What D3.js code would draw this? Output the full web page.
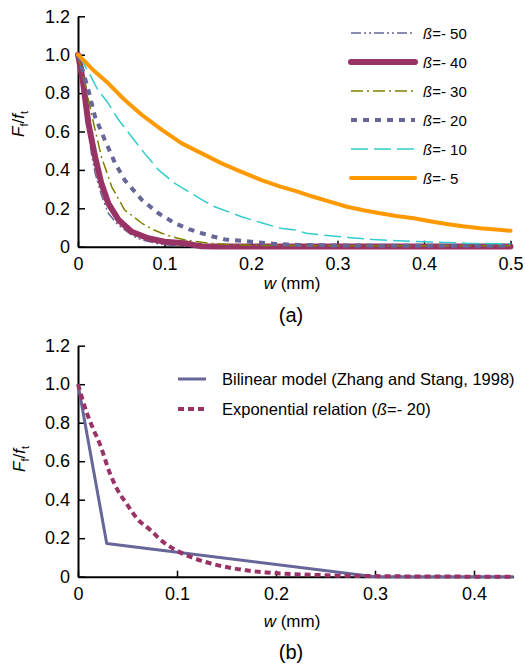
<!DOCTYPE html>
<html><head><meta charset="utf-8">
<script src="https://cdn.jsdelivr.net/npm/d3@7"></script>
<style>body{margin:0;background:#fff}svg{display:block;font-family:"Liberation Sans",Arial,sans-serif}</style>
</head><body><svg id="c" width="525" height="666"></svg>
<script>
// ---------- data (a) ----------
const xTicksA = [0, 0.1, 0.2, 0.3, 0.4, 0.5];
const yTicks = [0, 0.2, 0.4, 0.6, 0.8, 1.0, 1.2];
const seriesLabelsA = ["ß=- 50", "ß=- 40", "ß=- 30", "ß=- 20", "ß=- 10", "ß=- 5"];
const beta50 = [[0,1],[0.004,0.88],[0.008,0.76],[0.012,0.6],[0.016,0.47],[0.02,0.38],[0.027,0.27],[0.035,0.174],[0.045,0.12],[0.054,0.087],[0.064,0.055],[0.074,0.035],[0.093,0.015],[0.11,0.006],[0.13,0.002],[0.15,0],[0.5,0]];
const beta40 = [[0,1],[0.003,0.93],[0.006,0.851],[0.012,0.643],[0.0197,0.469],[0.027,0.33],[0.035,0.226],[0.047,0.139],[0.062,0.078],[0.081,0.044],[0.1,0.026],[0.124,0.018],[0.135,0.008],[0.143,0.002],[0.16,0.001],[0.5,0.001]];
const beta30 = [[0,1],[0.004,0.92],[0.008,0.851],[0.018,0.643],[0.027,0.469],[0.039,0.312],[0.054,0.191],[0.074,0.122],[0.086,0.09],[0.097,0.07],[0.11,0.05],[0.124,0.035],[0.151,0.018],[0.18,0.01],[0.22,0.006],[0.3,0.005],[0.5,0.005]];
const beta20 = [[0,1],[0.006,0.91],[0.012,0.816],[0.0197,0.677],[0.031,0.556],[0.043,0.434],[0.054,0.347],[0.074,0.243],[0.093,0.174],[0.112,0.122],[0.128,0.092],[0.143,0.07],[0.157,0.052],[0.17,0.038],[0.2,0.026],[0.228,0.014],[0.26,0.009],[0.3,0.006],[0.4,0.005],[0.5,0.005]];
const beta10 = [[0,1],[0.012,0.911],[0.023,0.816],[0.035,0.747],[0.047,0.66],[0.062,0.573],[0.077,0.486],[0.093,0.4],[0.112,0.33],[0.131,0.278],[0.145,0.24],[0.158,0.208],[0.175,0.18],[0.189,0.156],[0.212,0.125],[0.234,0.096],[0.251,0.087],[0.264,0.07],[0.291,0.057],[0.315,0.047],[0.341,0.038],[0.37,0.031],[0.399,0.026],[0.425,0.022],[0.449,0.018],[0.5,0.015]];
const beta5 = [[0,1],[0.0197,0.911],[0.035,0.851],[0.054,0.764],[0.074,0.686],[0.097,0.608],[0.12,0.538],[0.143,0.486],[0.166,0.434],[0.189,0.39],[0.212,0.347],[0.234,0.313],[0.253,0.288],[0.272,0.26],[0.291,0.235],[0.311,0.208],[0.33,0.19],[0.349,0.174],[0.368,0.16],[0.388,0.148],[0.407,0.133],[0.426,0.118],[0.445,0.106],[0.465,0.096],[0.483,0.09],[0.5,0.083]];

// ---------- data (b) ----------
const xTicksB = [0, 0.1, 0.2, 0.3, 0.4];
const seriesLabelsB = ["Bilinear model (Zhang and Stang, 1998)", "Exponential relation ("];
const bilinear = [[0,1],[0.029,0.173],[0.3,0],[0.44,0]];
const exponential = [[0,1],[0.009,0.85],[0.016,0.76],[0.022,0.69],[0.032,0.54],[0.04,0.45],[0.049,0.38],[0.06,0.3],[0.073,0.243],[0.085,0.185],[0.1,0.135],[0.115,0.1],[0.13,0.075],[0.15,0.05],[0.17,0.033],[0.19,0.022],[0.21,0.015],[0.24,0.009],[0.27,0.005],[0.3,0.003],[0.35,0.001],[0.44,0]];

const svg = d3.select("#c");
const fmtY = d => d === 0 ? "0" : d3.format(".1f")(d);
const fmtX = d => d === 0 ? "0" : d3.format(".1f")(d);

function panel(cfg){
  const x = d3.scaleLinear().domain(cfg.xDomain).range([78, cfg.xRight]);
  const y = d3.scaleLinear().domain([0, 1.2]).range([cfg.yBottom, cfg.yTop]);
  const g = svg.append("g");
  const ya = g.append("g").attr("transform", `translate(${x(0)},0)`)
    .call(d3.axisLeft(y).tickValues(yTicks).tickFormat(fmtY).tickSizeInner(-7).tickSizeOuter(0).tickPadding(8));
  const xa = g.append("g").attr("transform", `translate(0,${y(0)})`)
    .call(d3.axisBottom(x).tickValues(cfg.xTicks).tickFormat(fmtX).tickSizeInner(-6).tickSizeOuter(0).tickPadding(0));
  [ya, xa].forEach(a => {
    a.select(".domain").attr("stroke", "#000").attr("stroke-width", 2);
    a.selectAll(".tick line").attr("stroke", "#000").attr("stroke-width", 1.5);
    a.selectAll("text").attr("font-size", 18).attr("fill", "#000").attr("font-family", "Liberation Sans, Arial, sans-serif");
  });
  xa.selectAll(".tick text").attr("y", 23.5).attr("dy", 0);
  const yl = g.append("text").attr("transform", `translate(${cfg.yLabelX},${cfg.yLabelY}) rotate(-90)`)
    .attr("text-anchor", "middle").attr("font-size", 17);
  yl.append("tspan").attr("font-style", "italic").text("F");
  yl.append("tspan").attr("font-size", 11).attr("dy", 4).text("f");
  yl.append("tspan").attr("dy", -4).text("/");
  yl.append("tspan").attr("font-style", "italic").text("f");
  yl.append("tspan").attr("font-size", 11).attr("dy", 4).text("t");
  const xl = g.append("text").attr("x", 292).attr("y", cfg.xLabelY).attr("text-anchor", "middle").attr("font-size", 17);
  xl.append("tspan").attr("font-style", "italic").text("w");
  xl.append("tspan").text(" (mm)");
  g.append("text").attr("x", 291).attr("y", cfg.panelY).attr("text-anchor", "middle").attr("font-size", 20).text(cfg.panel);
  return {x, y, g};
}

const A = panel({xDomain:[0,0.5], xRight:510.5, yBottom:246.7, yTop:16.3, xTicks:xTicksA, yLabelX:24, yLabelY:124, xLabelY:289, panelY:322, panel:"(a)"});
const B = panel({xDomain:[0,0.44], xRight:513.6, yBottom:576.7, yTop:345.7, xTicks:xTicksB, yLabelX:25, yLabelY:459, xLabelY:627, panelY:659, panel:"(b)"});

const stylesA = [
  {data:beta50, color:"#666699", w:1.5, dash:"10,3,2,3,2,3"},
  {data:beta40, color:"#993366", w:6, dash:null},
  {data:beta30, color:"#808000", w:1.5, dash:"12,4,2,4"},
  {data:beta20, color:"#666699", w:4, dash:"6,6"},
  {data:beta10, color:"#33CCCC", w:1.5, dash:"17,6"},
  {data:beta5, color:"#FF9900", w:4, dash:null}
];
const lineA = d3.line().x(d => A.x(d[0])).y(d => A.y(d[1]));
stylesA.forEach((s, i) => {
  A.g.append("path").datum(s.data).attr("d", lineA).attr("fill", "none")
    .attr("stroke", s.color).attr("stroke-width", s.w).attr("stroke-linejoin", "round")
    .attr("stroke-linecap", s.dash ? "butt" : "round").attr("stroke-dasharray", s.dash);
  const ly = 33 + i * 29;
  A.g.append("line").attr("x1", 351).attr("x2", 415).attr("y1", ly).attr("y2", ly)
    .attr("stroke", s.color).attr("stroke-width", s.w).attr("stroke-linecap", s.dash ? "butt" : "round").attr("stroke-dasharray", s.dash);
  const t = A.g.append("text").attr("x", 423).attr("y", ly + 5.5).attr("font-size", 15);
  t.append("tspan").attr("font-style", "italic").text(seriesLabelsA[i].slice(0,1));
  t.append("tspan").text(seriesLabelsA[i].slice(1));
});

const lineB = d3.line().curve(d3.curveMonotoneX).x(d => B.x(d[0])).y(d => B.y(d[1]));
const lineBlin = d3.line().x(d => B.x(d[0])).y(d => B.y(d[1]));
const stylesB = [
  {data:bilinear, color:"#666699", w:3, dash:null, gen:lineBlin},
  {data:exponential, color:"#993366", w:4, dash:"6,4", gen:lineB}
];
stylesB.forEach((s, i) => {
  B.g.append("path").datum(s.data).attr("d", s.gen).attr("fill", "none")
    .attr("stroke", s.color).attr("stroke-width", s.w).attr("stroke-linejoin", "round")
    .attr("stroke-dasharray", s.dash);
  const ly = 379 + i * 30;
  B.g.append("line").attr("x1", 178).attr("x2", 206).attr("y1", ly).attr("y2", ly)
    .attr("stroke", s.color).attr("stroke-width", s.w).attr("stroke-dasharray", s.dash);
  const t = B.g.append("text").attr("x", 222).attr("y", ly + 6).attr("font-size", 16.5);
  t.append("tspan").text(seriesLabelsB[i]);
  if (i === 1) {
    t.append("tspan").attr("font-style", "italic").text("ß");
    t.append("tspan").text("=- 20)");
  }
});
</script></body></html>
